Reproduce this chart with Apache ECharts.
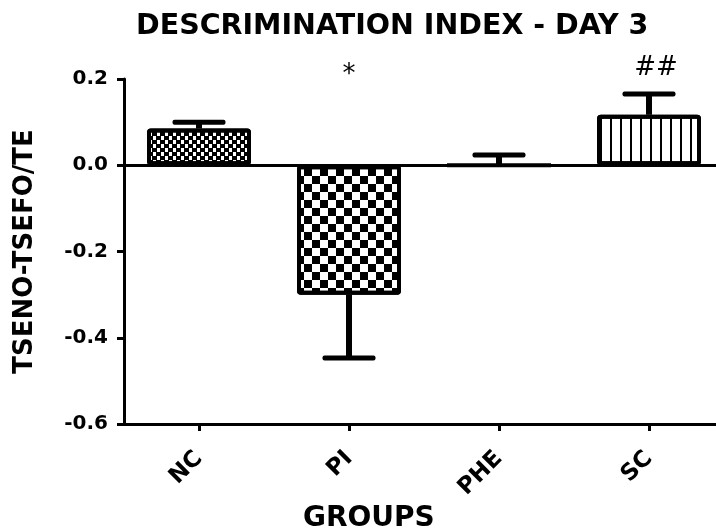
<!DOCTYPE html>
<html>
<head>
<meta charset="utf-8">
<style>
  html, body { margin: 0; padding: 0; background: #fff; }
  #chart { width: 716px; height: 530px; }
</style>
<script src="https://cdn.jsdelivr.net/npm/echarts@6/dist/echarts.min.js"></script>
</head>
<body>
<div id="chart"></div>
<script>
// Discrimination index, day 3: group means with one-sided SEM bars
const groups = ['NC', 'PI', 'PHE', 'SC'];
const means = [0.085, -0.300, 0.000, 0.117];
const sems = [0.015, 0.147, 0.024, 0.048];
const marks = ['', '*', '', '##'];
const markLevels = [null, 0.178, null, 0.195];
const yTicks = [-0.6, -0.4, -0.2, 0.0, 0.2];

const FONT = 'DejaVu Sans';

// fill patterns for each group bar
const patterns = [
  { symbol: 'rect', symbolSize: 1, color: '#000', dashArrayX: [[5, 3], [1, 3, 4, 0]], dashArrayY: [4, 0], rotation: 0 },
  { symbol: 'rect', symbolSize: 1, color: '#000', dashArrayX: [[8, 8], [0, 8, 8, 0]], dashArrayY: [8, 0], rotation: 0 },
  'none',
  { symbol: 'rect', symbolSize: 1, color: '#000', dashArrayX: [2, 8], dashArrayY: [10, 0], rotation: 0 }
];

const barData = means.map((v, i) => ({
  value: v,
  itemStyle: patterns[i] === 'none'
    ? { color: '#fff', borderColor: '#000', borderWidth: 4 }
    : { color: '#fff', borderColor: '#000', borderWidth: 4, decal: patterns[i] }
}));

const errData = means.map((v, i) => [i, v, sems[i]]);
const markData = marks.map((m, i) => [i, markLevels[i] == null ? 0 : markLevels[i], m]);

const chart = echarts.init(document.getElementById('chart'));
chart.setOption({
  animation: false,
  backgroundColor: '#fff',
  title: [
    {
      text: 'DESCRIMINATION INDEX - DAY 3',
      left: 136, top: 12, padding: 0,
      textStyle: { fontFamily: FONT, fontWeight: 'bold', fontSize: 28.5, color: '#000' }
    },
    {
      text: 'GROUPS',
      left: 303, top: 505, padding: 0,
      textStyle: { fontFamily: FONT, fontWeight: 'bold', fontSize: 28, color: '#000' }
    }
  ],
  // plot area runs slightly past the right edge of the canvas
  grid: { left: 124, top: 79, width: 600, height: 345, outerBoundsMode: 'none' },
  xAxis: {
    type: 'category',
    data: groups,
    boundaryGap: true,
    axisLine: { show: true, onZero: false, lineStyle: { color: '#000', width: 3 } },
    axisTick: { show: true, alignWithLabel: true, length: 7, lineStyle: { color: '#000', width: 3 } },
    axisLabel: {
      rotate: 45, margin: 31, color: '#000',
      fontFamily: FONT, fontWeight: 'bold', fontSize: 23
    },
    splitLine: { show: false }
  },
  yAxis: {
    type: 'value',
    min: -0.6, max: 0.2, interval: 0.2,
    name: 'TSENO-TSEFO/TE',
    nameLocation: 'middle',
    nameGap: 86,
    nameTextStyle: { fontFamily: FONT, fontWeight: 'bold', fontSize: 26, color: '#000' },
    axisLine: { show: true, lineStyle: { color: '#000', width: 3 } },
    axisTick: { show: true, length: 7, lineStyle: { color: '#000', width: 3 } },
    axisLabel: {
      margin: 16, color: '#000',
      fontFamily: FONT, fontWeight: 'bold', fontSize: 20,
      customValues: yTicks,
      formatter: v => v.toFixed(1)
    },
    splitLine: { show: false }
  },
  series: [
    {
      type: 'bar',
      data: barData,
      barWidth: 104,
      z: 2,
      itemStyle: { borderRadius: 2 },
      markLine: {
        silent: true,
        symbol: 'none',
        label: { show: false },
        lineStyle: { color: '#000', width: 3, type: 'solid' },
        data: [{ yAxis: 0 }]
      }
    },
    {
      // one-sided error bars, pointing away from zero
      type: 'custom',
      data: errData,
      z: 3,
      clip: false,
      renderItem: (params, api) => {
        const i = api.value(0), v = api.value(1), e = api.value(2);
        const dir = v >= 0 ? 1 : -1;
        const base = api.coord([i, v]);
        const tip = api.coord([i, v + dir * e]);
        const capW = 53, capH = 5, stemW = 6;
        return {
          type: 'group',
          children: [
            {
              type: 'rect',
              shape: { x: base[0] - stemW / 2, y: Math.min(base[1], tip[1]), width: stemW, height: Math.abs(tip[1] - base[1]) },
              style: { fill: '#000' }
            },
            {
              type: 'rect',
              shape: { x: tip[0] - capW / 2, y: tip[1] - capH / 2, width: capW, height: capH, r: 2 },
              style: { fill: '#000' }
            }
          ]
        };
      }
    },
    {
      // significance marks
      type: 'custom',
      data: markData,
      z: 4,
      clip: false,
      renderItem: (params, api) => {
        const i = api.value(0);
        const text = marks[params.dataIndex];
        if (!text) return null;
        const p = api.coord([i, api.value(1)]);
        return {
          type: 'text',
          style: {
            x: p[0] + (text.length > 1 ? 7 : 0), y: p[1],
            text: text,
            align: 'center', verticalAlign: 'bottom',
            fontFamily: FONT, fontSize: 26, fill: '#000'
          }
        };
      }
    }
  ]
});
</script>
</body>
</html>
